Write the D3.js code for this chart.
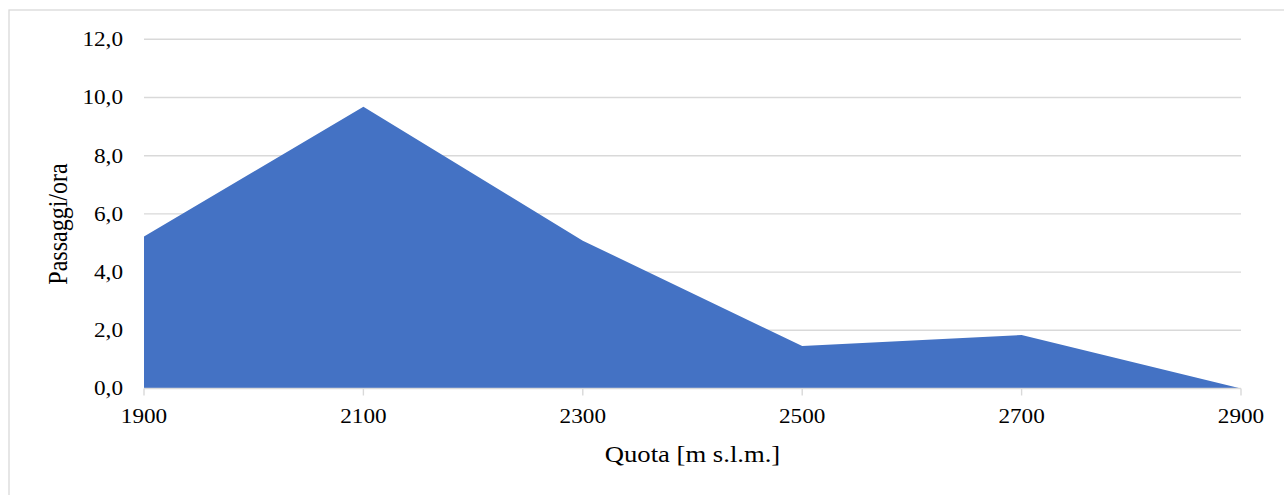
<!DOCTYPE html>
<html><head><meta charset="utf-8">
<script src="https://cdn.jsdelivr.net/npm/d3@7"></script>
<style>body{margin:0;background:#fff}svg{display:block}</style>
</head><body>
<script>
const quote = [1900, 2100, 2300, 2500, 2700, 2900];
const passaggi = [5.22, 9.68, 5.08, 1.46, 1.84, 0.0];
const yTicks = [0, 2, 4, 6, 8, 10, 12];
const xTitle = "Quota [m s.l.m.]";
const yTitle = "Passaggi/ora";

const W = 1284, H = 495, SX = 1.16;
const m = {left:144, right:W-1241, top:39.3, bottom:H-388.5};
const svg = d3.select("body").append("svg").attr("width", W).attr("height", H);
svg.append("rect").attr("x",9).attr("y",10).attr("width",W+20).attr("height",H+20)
  .attr("fill","#fff").attr("stroke","#d9d9d9").attr("stroke-width",1.3);

const x = d3.scaleLinear().domain([1900,2900]).range([m.left, W-m.right]);
const y = d3.scaleLinear().domain([0,12]).range([H-m.bottom, m.top]);
const fmt = v => d3.format(".1f")(v).replace(".", ",");

svg.append("g").selectAll("line").data(yTicks.filter(d=>d>0)).join("line")
  .attr("x1", m.left).attr("x2", W-m.right)
  .attr("y1", d=>y(d)).attr("y2", d=>y(d))
  .attr("stroke","#d9d9d9").attr("stroke-width",1.4);

const data = quote.map((q,i)=>({q, v:passaggi[i]}));
svg.append("path").datum(data)
  .attr("d", d3.area().x(d=>x(d.q)).y0(y(0)).y1(d=>y(d.v)))
  .attr("fill","#4472c4");

svg.append("line").attr("x1", m.left).attr("x2", W-m.right)
  .attr("y1", y(0)).attr("y2", y(0)).attr("stroke","#d9d9d9").attr("stroke-width",1.4);
svg.append("g").selectAll("line").data(quote).join("line")
  .attr("x1", d=>x(d)).attr("x2", d=>x(d))
  .attr("y1", y(0)).attr("y2", y(0)+7).attr("stroke","#d9d9d9").attr("stroke-width",1.4);

const font = "'Liberation Serif','Times New Roman',serif";
svg.append("g").selectAll("text").data(quote).join("text")
  .attr("transform", d=>`translate(${x(d)},422.5) scale(${SX},1)`)
  .attr("text-anchor","middle").attr("font-family",font).attr("font-size",20)
  .attr("fill","#000").text(d=>d);

svg.append("g").selectAll("text").data(yTicks).join("text")
  .attr("transform", d=>`translate(123,${y(d)+6.8}) scale(${SX},1)`)
  .attr("text-anchor","end").attr("font-family",font).attr("font-size",20)
  .attr("fill","#000").text(d=>fmt(d));

svg.append("text")
  .attr("transform", `translate(${(m.left+W-m.right)/2},462) scale(${SX},1)`)
  .attr("text-anchor","middle").attr("font-family",font).attr("font-size",23)
  .attr("fill","#000").text(xTitle);

svg.append("text")
  .attr("transform", `translate(67,224) scale(${SX},1) rotate(-90)`)
  .attr("text-anchor","middle").attr("font-family",font).attr("font-size",24)
  .attr("fill","#000").text(yTitle);
</script>
</body></html>
